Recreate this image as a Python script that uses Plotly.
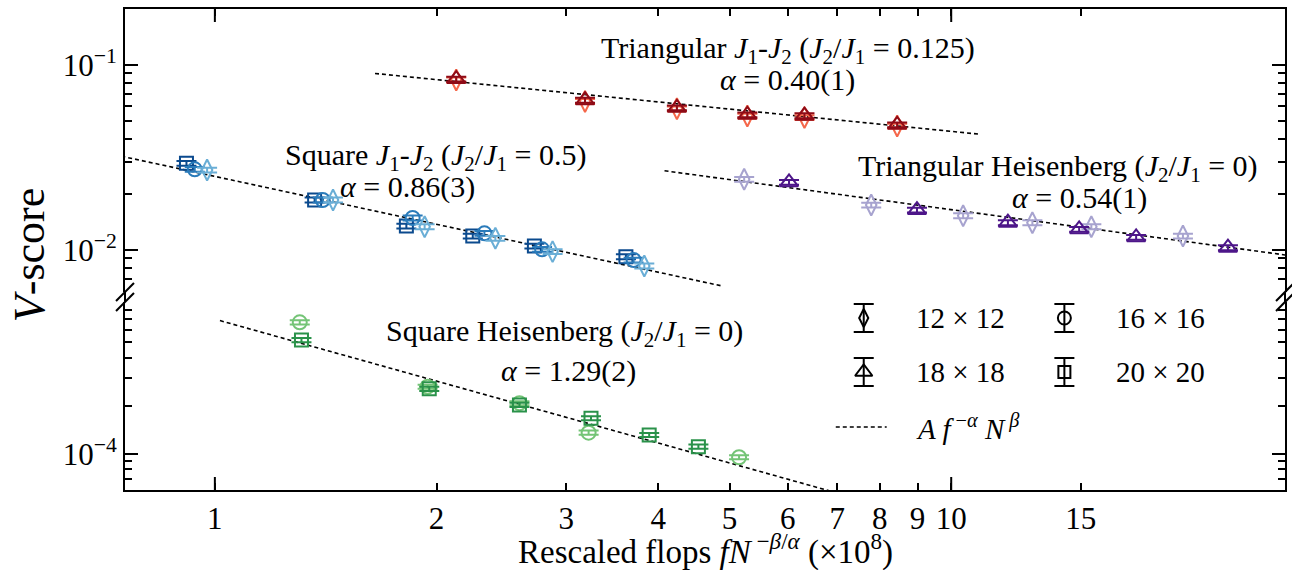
import math
import plotly.graph_objects as go

# ---------------- data ----------------
# Square J1-J2 (J2/J1 = 0.5)
sqj_12_x = [0.976, 1.447, 1.927, 2.404, 2.875, 3.83]
sqj_12_y = [0.02706, 0.01864, 0.01336, 0.01157, 0.0098, 0.0082]
sqj_16_x = [0.939, 1.401, 1.856, 2.323, 2.782, 3.704]
sqj_16_y = [0.0273, 0.01864, 0.0149, 0.01231, 0.01009, 0.00883]
sqj_20_x = [0.915, 1.366, 1.820, 2.240, 2.716, 3.616]
sqj_20_y = [0.02941, 0.01864, 0.01348, 0.0119, 0.01051, 0.0092]

# Triangular J1-J2 (J2/J1 = 0.125)
trj_12_x = [2.127, 3.182, 4.241, 5.286, 6.32, 8.445]
trj_12_y = [0.0830, 0.0635, 0.0580, 0.0530, 0.0520, 0.0468]
trj_18_x = [2.127, 3.182, 4.241, 5.286, 6.32, 8.445]
trj_18_y = [0.0840, 0.0645, 0.0587, 0.0538, 0.0532, 0.0475]

# Triangular Heisenberg (J2/J1 = 0)
trh_12_x = [5.234, 7.787, 10.38, 12.89, 15.50, 20.64]
trh_12_y = [0.02411, 0.01750, 0.01532, 0.01405, 0.01336, 0.01190]
trh_18_x = [6.022, 8.985, 11.94, 14.92, 17.83, 23.76]
trh_18_y = [0.02323, 0.01645, 0.01405, 0.01294, 0.01171, 0.01029]

# Square Heisenberg (J2/J1 = 0)
sqh_16_x = [1.304, 1.945, 2.592, 3.218, 5.151]
sqh_16_y = [6.69e-4, 2.64e-4, 2.08e-4, 1.36e-4, 0.953e-4]
sqh_20_x = [1.311, 1.955, 2.592, 3.242, 3.889, 4.536]
sqh_20_y = [5.18e-4, 2.56e-4, 2.03e-4, 1.674e-4, 1.315e-4, 1.111e-4]

# relative error bars (percent)
err_pct = 3.0

# fits A f^-alpha : amplitude, exponent, x-extent
fit_sqj = dict(A=0.0250, alpha=0.86, x=[0.70, 4.9])
fit_trj = dict(A=0.110, alpha=0.40, x=[1.65, 10.9])
fit_trh = dict(A=0.0573, alpha=0.54, x=[4.08, 30.0])
fit_sqh = dict(A=7.0e-4, alpha=1.29, x=[1.016, 7.5])

x_tickvals = [1, 2, 3, 4, 5, 6, 7, 8, 9, 10, 15]
x_ticktext = ["1", "2", "3", "4", "5", "6", "7", "8", "9", "10", "15"]
top_y_tickvals = [0.01, 0.1]
top_y_ticktext = ["10<sup>−2</sup>", "10<sup>−1</sup>"]
bot_y_tickvals = [1e-4]
bot_y_ticktext = ["10<sup>−4</sup>"]

legend_labels = ["12 × 12", "16 × 16", "18 × 18", "20 × 20"]
legend_symbols = ["diamond-tall-open", "circle-open", "triangle-up-open", "square-open"]
fit_label = "<i>A f</i><sup> −<i>α</i></sup> <i>N</i><sup> <i>β</i></sup>"

# ---------------- styling ----------------
FONT = "Liberation Serif"
W, H = 1292, 570
L, R, T, B = 125, 1287, 9, 490  # plot area in px
TOP_BOTTOM_PX = 292   # bottom edge of upper panel
BOT_TOP_PX = 302      # top edge of lower panel


def pxx(x):
    return (x - L) / (R - L)


def pxy(y):
    return (B - y) / (B - T)


top_dom = [pxy(TOP_BOTTOM_PX), 1.0]
bot_dom = [0.0, pxy(BOT_TOP_PX)]

fig = go.Figure()


def fit_trace(fit, xa, ya):
    xs = fit["x"]
    ys = [fit["A"] * v ** (-fit["alpha"]) for v in xs]
    return go.Scatter(x=xs, y=ys, mode="lines", xaxis=xa, yaxis=ya,
                      line=dict(color="black", width=1.6, dash="4px,3px"),
                      showlegend=False, hoverinfo="skip")


def pts(x, y, symbol, size, color, xa, ya):
    return go.Scatter(
        x=x, y=y, mode="markers", xaxis=xa, yaxis=ya, showlegend=False,
        marker=dict(symbol=symbol, size=size, color=color, line=dict(width=2, color=color)),
        error_y=dict(type="percent", value=err_pct, color=color, thickness=2, width=10),
    )


# fit lines
fig.add_trace(fit_trace(fit_sqj, "x2", "y2"))
fig.add_trace(fit_trace(fit_trj, "x2", "y2"))
fig.add_trace(fit_trace(fit_trh, "x2", "y2"))
fig.add_trace(fit_trace(fit_sqh, "x", "y"))

# Square J1-J2
fig.add_trace(pts(sqj_20_x, sqj_20_y, "square-open", 13, "#0b4a8e", "x2", "y2"))
fig.add_trace(pts(sqj_16_x, sqj_16_y, "circle-open", 14, "#2a7bba", "x2", "y2"))
fig.add_trace(pts(sqj_12_x, sqj_12_y, "diamond-tall-open", 15, "#6aaed6", "x2", "y2"))
# Triangular J1-J2
fig.add_trace(pts(trj_12_x, trj_12_y, "diamond-tall-open", 15, "#f5674a", "x2", "y2"))
fig.add_trace(pts(trj_18_x, trj_18_y, "triangle-up-open", 16, "#8e0b17", "x2", "y2"))
# Triangular Heisenberg
fig.add_trace(pts(trh_12_x, trh_12_y, "diamond-tall-open", 15, "#a7a3cf", "x2", "y2"))
fig.add_trace(pts(trh_18_x, trh_18_y, "triangle-up-open", 16, "#4d1689", "x2", "y2"))
# Square Heisenberg
fig.add_trace(pts(sqh_16_x, sqh_16_y, "circle-open", 14, "#74c476", "x", "y"))
fig.add_trace(pts(sqh_20_x, sqh_20_y, "square-open", 13, "#2a924a", "x", "y"))

# ---------------- custom legend (px-unit overlay axes) ----------------
leg_pos = [(865, 318), (1066, 318), (865, 372), (1066, 372)]
leg_sizes = [13, 13, 15, 12]
for (lx, ly), sym, sz, lab in zip(leg_pos, legend_symbols, leg_sizes, legend_labels):
    fig.add_trace(go.Scatter(
        x=[lx], y=[ly], mode="markers", xaxis="x3", yaxis="y3", showlegend=False,
        marker=dict(symbol=sym, size=sz, color="black", line=dict(width=2, color="black")),
        error_y=dict(type="data", array=[14], color="black", thickness=2, width=10),
        hoverinfo="skip"))
fig.add_trace(go.Scatter(x=[837, 888], y=[427, 427], mode="lines", xaxis="x3", yaxis="y3",
                         line=dict(color="black", width=1.6, dash="4px,3px"),
                         showlegend=False, hoverinfo="skip"))

annotations = []
leg_text_pos = [(915, 318), (1116, 318), (915, 372), (1116, 372)]
for (tx, ty), lab in zip(leg_text_pos, legend_labels):
    annotations.append(dict(x=pxx(tx), y=pxy(ty), xref="paper", yref="paper", text=lab,
                            showarrow=False, xanchor="left", yanchor="middle",
                            font=dict(family=FONT, size=29, color="black")))
annotations.append(dict(x=pxx(915), y=pxy(427), xref="paper", yref="paper", text=fit_label,
                        showarrow=False, xanchor="left", yanchor="middle",
                        font=dict(family=FONT, size=29, color="black")))

J12 = "<i>J</i><sub>1</sub>-<i>J</i><sub>2</sub>"
R21 = "(<i>J</i><sub>2</sub>/<i>J</i><sub>1</sub> = {})"
texts = [
    ("Triangular " + J12 + " " + R21.format("0.125"), 789, 50),
    ("<i>α</i> = 0.40(1)", 789, 80),
    ("Square " + J12 + " " + R21.format("0.5"), 436, 157),
    ("<i>α</i> = 0.86(3)", 408, 187),
    ("Triangular Heisenberg " + R21.format("0"), 1060, 168),
    ("<i>α</i> = 0.54(1)", 1081, 198),
    ("Square Heisenberg " + R21.format("0"), 565, 333),
    ("<i>α</i> = 1.29(2)", 569, 371),
]
for t, tx, ty in texts:
    annotations.append(dict(x=pxx(tx), y=pxy(ty), xref="paper", yref="paper", text=t,
                            showarrow=False, xanchor="center", yanchor="middle",
                            font=dict(family=FONT, size=30, color="black")))

# axis titles
annotations.append(dict(x=pxx(706), y=pxy(549), xref="paper", yref="paper",
                        text="Rescaled flops <i>f</i><i>N</i><sup> −<i>β</i>/<i>α</i></sup> (×10<sup>8</sup>)",
                        showarrow=False, xanchor="center", yanchor="middle",
                        font=dict(family=FONT, size=33, color="black")))
annotations.append(dict(x=pxx(30), y=pxy(255), xref="paper", yref="paper",
                        text="<i>V</i>-score", textangle=-90,
                        showarrow=False, xanchor="center", yanchor="middle",
                        font=dict(family=FONT, size=44, color="black")))

# ---------------- shapes: gap spines, break marks, long x ticks ----------------
shapes = []
for xp in (0, 1):
    shapes.append(dict(type="line", xref="paper", yref="paper", x0=xp, x1=xp,
                       y0=bot_dom[1], y1=top_dom[0], line=dict(color="black", width=2)))
for cx in (L, R):
    for cy in (TOP_BOTTOM_PX, BOT_TOP_PX):
        shapes.append(dict(type="line", xref="paper", yref="paper",
                           x0=pxx(cx - 9), y0=pxy(cy + 9), x1=pxx(cx + 9), y1=pxy(cy - 9),
                           line=dict(color="black", width=2)))
for xv in (1, 10):
    shapes.append(dict(type="line", xref="x", yref="y domain", x0=xv, x1=xv,
                       y0=0, y1=13 / (B - BOT_TOP_PX), line=dict(color="black", width=2)))
    shapes.append(dict(type="line", xref="x2", yref="y2 domain", x0=xv, x1=xv,
                       y0=1 - 13 / (TOP_BOTTOM_PX - T), y1=1, line=dict(color="black", width=2)))

xrange = [math.log10(0.755), math.log10(28.4)]
common_x = dict(type="log", range=xrange, showgrid=False, zeroline=False, showline=True,
                linecolor="black", linewidth=2, ticks="inside", ticklen=7, tickwidth=1.5,
                tickcolor="black", tickmode="array", tickvals=x_tickvals, ticktext=x_ticktext,
                domain=[0, 1])

top_minor = [6e-3, 7e-3, 8e-3, 9e-3] + [k * 1e-2 for k in range(2, 10)] + [2e-1]
bot_minor = [6e-5, 7e-5, 8e-5, 9e-5] + [k * 1e-4 for k in range(2, 10)]
common_y = dict(type="log", showgrid=False, zeroline=False, showline=True, linecolor="black",
                linewidth=2, mirror="ticks", ticks="inside", ticklen=13, tickwidth=2,
                tickcolor="black", tickmode="array",
                tickfont=dict(family=FONT, size=31, color="black"))

fig.update_layout(
    width=W, height=H,
    margin=dict(l=L, r=W - R, t=T, b=H - B),
    paper_bgcolor="white", plot_bgcolor="rgba(0,0,0,0)",
    showlegend=False,
    xaxis=dict(**common_x, anchor="y", side="bottom",
               tickfont=dict(family=FONT, size=31, color="black")),
    xaxis2=dict(**common_x, anchor="y2", side="top", matches="x", showticklabels=False),
    yaxis=dict(**common_y, domain=bot_dom, anchor="x",
               range=[math.log10(5.94e-5), math.log10(8.97e-4)],
               tickvals=bot_y_tickvals, ticktext=bot_y_ticktext,
               minor=dict(ticks="inside", ticklen=7, tickwidth=1.5, tickcolor="black",
                          tickmode="array", tickvals=bot_minor, showgrid=False)),
    yaxis2=dict(**common_y, domain=top_dom, anchor="x2",
                range=[math.log10(5.93e-3), math.log10(0.2008)],
                tickvals=top_y_tickvals, ticktext=top_y_ticktext,
                minor=dict(ticks="inside", ticklen=7, tickwidth=1.5, tickcolor="black",
                           tickmode="array", tickvals=top_minor, showgrid=False)),
    xaxis3=dict(domain=[0, 1], range=[L, R], anchor="y3", visible=False, fixedrange=True),
    yaxis3=dict(domain=[0, 1], range=[B, T], anchor="x3", visible=False, fixedrange=True),
    annotations=annotations,
    shapes=shapes,
)

fig.write_html("out.html")
